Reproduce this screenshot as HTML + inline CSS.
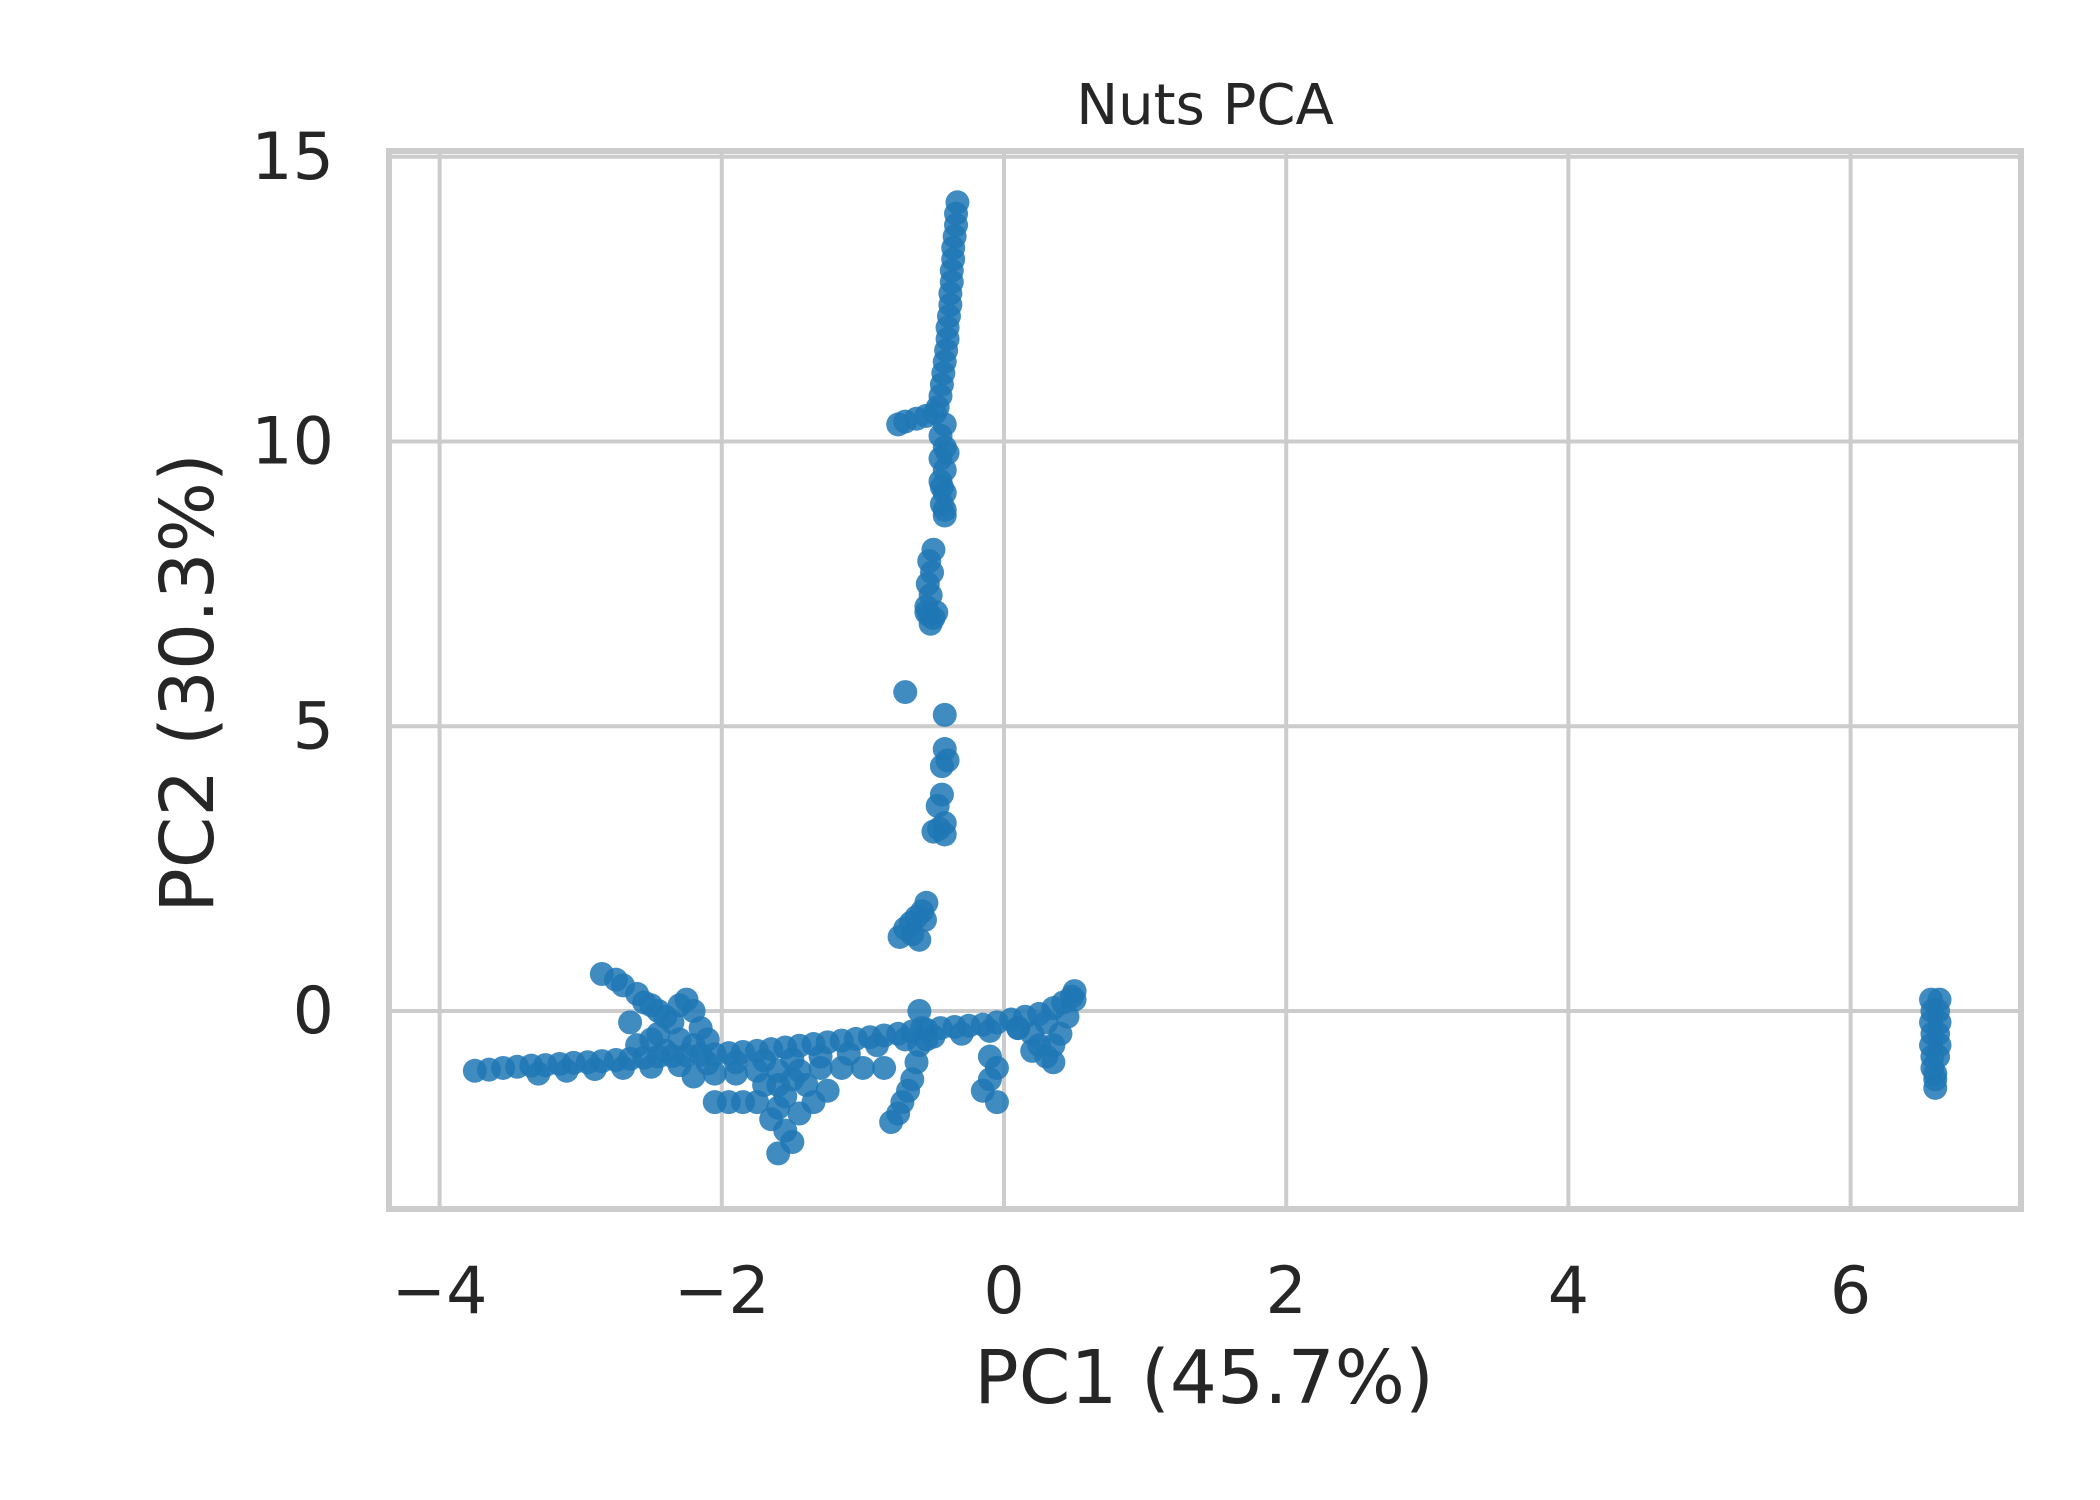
<!DOCTYPE html>
<html><head><meta charset="utf-8"><style>
body{margin:0;background:#fff}
svg{display:block;font-family:"DejaVu Sans","Liberation Sans",sans-serif}
</style></head><body>
<svg id="chart" width="2100" height="1500" viewBox="0 0 2100 1500">
<rect width="2100" height="1500" fill="#fff"/>
<g id="grid"></g>
<g id="pts"></g>
<rect x="389" y="151" width="1632" height="1058" fill="none" stroke="#cccccc" stroke-width="6"/>
<g id="ticks" fill="#262626" font-size="65"></g>
<text x="1205" y="124" text-anchor="middle" font-size="56" fill="#262626">Nuts PCA</text>
<text x="1204" y="1403" text-anchor="middle" font-size="74" fill="#262626">PC1 (45.7%)</text>
<text transform="translate(213,683) rotate(-90)" text-anchor="middle" font-size="74" fill="#262626">PC2 (30.3%)</text>
</svg>
<script>
const xTicks=[-4,-2,0,2,4,6];
const yTicks=[0,5,10,15];
const xLabels=["\u22124","\u22122","0","2","4","6"];
const yLabels=["0","5","10","15"];
const ptsX=[
-0.33,-0.34,-0.34,-0.35,-0.36,-0.36,-0.37,-0.37,-0.38,-0.38,-0.39,-0.40,-0.40,-0.41,-0.42,-0.43,-0.44,-0.45,-0.47,-0.49,-0.55,-0.62,-0.70,-0.75,
-0.42,-0.45,-0.42,-0.45,-0.42,-0.45,-0.42,-0.44,-0.42,-0.40,-0.44,-0.42,
-0.50,-0.53,-0.51,-0.54,-0.52,-0.55,-0.53,-0.50,-0.55,-0.52,-0.48,
-0.42,-0.42,-0.40,-0.44,-0.44,-0.47,-0.42,-0.46,-0.50,-0.42,-0.70,
-0.55,-0.58,-0.62,-0.66,-0.70,-0.74,-0.60,-0.65,-0.56,
-3.75,-3.65,-3.55,-3.45,-3.35,-3.25,-3.15,-3.05,-2.95,-2.85,-2.75,-2.65,-2.55,-2.45,-2.35,-2.25,-2.15,-2.05,-1.95,-1.85,-1.75,-1.65,-1.55,-1.45,-1.35,-1.25,-1.15,-1.05,-0.95,-0.85,-0.75,-0.65,-0.55,-0.45,-0.35,-0.25,-0.15,-0.05,0.05,0.15,0.25,0.35,0.42,0.48,0.5,
-3.3,-3.1,-2.9,-2.7,-2.5,-2.3,-2.1,-1.9,-1.7,-1.5,-1.3,-1.1,-0.9,-0.7,-0.5,-0.3,-0.1,0.1,0.3,
-2.85,-2.75,-2.7,-2.6,-2.55,-2.5,-2.45,-2.4,-2.3,-2.25,-2.2,-2.15,-2.35,-2.45,-2.6,-2.5,-2.3,-2.2,-2.4,-2.65,-2.1,
-2.2,-2.05,-1.9,-1.75,-1.6,-1.45,-1.3,-1.15,-1.0,-0.85,
-2.05,-1.95,-1.85,-1.75,
-1.6,-1.55,-1.6,-1.65,-1.55,-1.5,-1.6,-1.45,-1.35,-1.25,-1.7,-1.5,-1.4,
-0.6,-0.58,-0.6,-0.62,-0.65,-0.68,-0.72,-0.75,-0.8,-0.55,
-0.1,-0.05,-0.1,-0.15,-0.05,0.2,0.25,0.3,0.35,0.4,0.45,0.5,0.1,0.2,0.35,
6.57,6.63,6.58,6.62,6.57,6.63,6.58,6.62,6.57,6.63,6.58,6.62,6.58,6.6,6.6,6.6];
const ptsY=[
14.2,14.0,13.8,13.6,13.4,13.2,13.0,12.8,12.6,12.4,12.2,12.0,11.8,11.6,11.4,11.2,11.0,10.8,10.6,10.5,10.45,10.4,10.35,10.3,
10.3,10.1,9.9,9.7,9.5,9.3,9.1,8.9,8.7,9.8,9.2,8.8,
8.1,7.9,7.7,7.5,7.3,7.1,6.95,6.9,7.0,6.8,7.0,
5.2,4.6,4.4,4.3,3.8,3.6,3.3,3.2,3.15,3.1,5.6,
1.9,1.75,1.65,1.55,1.45,1.3,1.25,1.35,1.6,
-1.05,-1.03,-1.0,-0.98,-0.96,-0.95,-0.93,-0.91,-0.9,-0.88,-0.86,-0.84,-0.82,-0.8,-0.79,-0.78,-0.77,-0.76,-0.74,-0.72,-0.7,-0.67,-0.64,-0.61,-0.58,-0.55,-0.52,-0.49,-0.46,-0.43,-0.4,-0.36,-0.33,-0.3,-0.28,-0.26,-0.24,-0.2,-0.15,-0.1,-0.05,0.05,0.15,0.25,0.35,
-1.1,-1.05,-1.02,-1.0,-0.98,-0.95,-0.92,-0.9,-0.87,-0.85,-0.8,-0.75,-0.6,-0.5,-0.45,-0.4,-0.35,-0.3,-0.2,
0.65,0.55,0.45,0.3,0.15,0.1,0.0,-0.1,0.1,0.2,0.0,-0.3,-0.2,-0.4,-0.6,-0.5,-0.5,-0.6,-0.7,-0.2,-0.5,
-1.15,-1.1,-1.1,-1.05,-1.05,-1.05,-1.0,-1.0,-1.0,-1.0,
-1.6,-1.6,-1.6,-1.6,
-1.3,-1.5,-1.7,-1.9,-2.1,-2.3,-2.5,-1.8,-1.6,-1.4,-1.3,-1.2,-1.3,
0.0,-0.3,-0.6,-0.9,-1.2,-1.4,-1.6,-1.8,-1.95,-0.5,
-0.8,-1.0,-1.2,-1.4,-1.6,-0.4,-0.6,-0.8,-0.6,-0.4,-0.1,0.2,-0.3,-0.7,-0.9,
0.2,0.2,0.0,0.0,-0.2,-0.2,-0.4,-0.4,-0.6,-0.6,-0.8,-0.8,-1.0,-1.1,-1.2,-1.35];
const X0=1004,XS=141.1,Y0=1011,YS=56.95;
const sx=v=>X0+v*XS, sy=v=>Y0-v*YS;
const NS="http://www.w3.org/2000/svg";
const grid=document.getElementById('grid'),tk=document.getElementById('ticks'),pg=document.getElementById('pts');
xTicks.forEach((t,i)=>{
  const l=document.createElementNS(NS,'line');
  
  
  l.setAttribute('x1',sx(t));l.setAttribute('x2',sx(t));l.setAttribute('y1',151);l.setAttribute('y2',1209);
  l.setAttribute('stroke','#cccccc');l.setAttribute('stroke-width','4');grid.appendChild(l);
  const tx=document.createElementNS(NS,'text');
  
  
  tx.setAttribute('x',sx(t));tx.setAttribute('y',1313);tx.setAttribute('text-anchor','middle');
  tx.textContent=xLabels[i];tk.appendChild(tx);
});
yTicks.forEach((t,i)=>{
  const l=document.createElementNS(NS,'line');
  
  
  l.setAttribute('x1',389);l.setAttribute('x2',2021);l.setAttribute('y1',sy(t));l.setAttribute('y2',sy(t));
  l.setAttribute('stroke','#cccccc');l.setAttribute('stroke-width','4');grid.appendChild(l);
  const tx=document.createElementNS(NS,'text');
  
  
  tx.setAttribute('x',334);tx.setAttribute('y',sy(t)+22);tx.setAttribute('text-anchor','end');
  tx.textContent=yLabels[i];tk.appendChild(tx);
});
ptsX.forEach((x,i)=>{
  const c=document.createElementNS(NS,'circle');
  
  
  c.setAttribute('cx',sx(x));c.setAttribute('cy',sy(ptsY[i]));c.setAttribute('r',12);
  c.setAttribute('fill','#1f77b4');c.setAttribute('fill-opacity','0.85');pg.appendChild(c);
});
</script>
</body></html>
